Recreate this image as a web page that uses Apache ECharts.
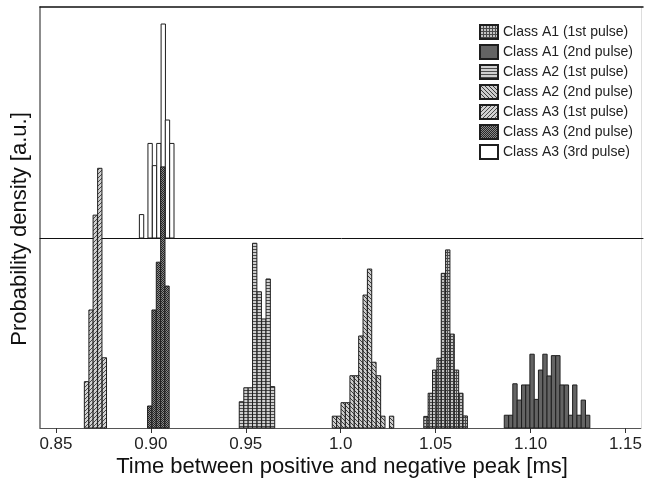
<!DOCTYPE html>
<html>
<head>
<meta charset="utf-8">
<script src="https://cdn.jsdelivr.net/npm/echarts@6/dist/echarts.min.js"></script>
<style>
  html, body { margin: 0; padding: 0; background: #fff; }
  #chart { width: 645px; height: 485px; }
</style>
</head>
<body>
<div id="chart"></div>
<script>
// Histogram of the time between the positive and negative peak, per class and pulse.
const BIN_WIDTH = 0.00228; // ms

const xTickValues = [0.85, 0.90, 0.95, 1.00, 1.05, 1.10, 1.15];
const xTickLabels = ['0.85', '0.90', '0.95', '1.0', '1.05', '1.10', '1.15'];

const seriesNames = [
  'Class A1 (1st pulse)', 'Class A1 (2nd pulse)',
  'Class A2 (1st pulse)', 'Class A2 (2nd pulse)',
  'Class A3 (1st pulse)', 'Class A3 (2nd pulse)', 'Class A3 (3rd pulse)'
];

// bin centres [ms] and probability density [a.u.]
const a1p1Centers = [1.0449, 1.0472, 1.0495, 1.0518, 1.0541, 1.0564, 1.0587, 1.0610, 1.0633, 1.0656];
const a1p1Density = [0.49, 1.47, 2.45, 2.95, 6.54, 7.53, 3.97, 2.45, 1.47, 0.51];

const a1p2Centers = [1.0873, 1.0896, 1.0918, 1.0941, 1.0964, 1.0986, 1.1008, 1.1031, 1.1053, 1.1076,
                     1.1098, 1.1121, 1.1144, 1.1166, 1.1189, 1.1211, 1.1233, 1.1256, 1.1278, 1.1301];
const a1p2Density = [0.54, 0.54, 1.87, 1.18, 1.82, 1.82, 3.12, 1.21, 2.45, 3.12,
                     2.20, 3.06, 3.06, 1.82, 1.82, 0.54, 1.82, 0.54, 1.18, 0.54];

const a2p1Centers = [0.9477, 0.9501, 0.9524, 0.9547, 0.9571, 0.9595, 0.9618, 0.9641];
const a2p1Density = [1.11, 1.70, 1.70, 7.81, 5.76, 4.61, 6.30, 1.75];

const a2p2Centers = [0.9967, 0.9990, 1.0013, 1.0036, 1.0060, 1.0083, 1.0106, 1.0129, 1.0152, 1.0175,
                     1.0199, 1.0222, 1.0268];
const a2p2Density = [0.50, 0.50, 1.07, 1.07, 2.21, 2.21, 3.89, 5.62, 6.72, 2.78, 2.21, 0.50, 0.50];

const a3p1Centers = [0.8661, 0.8685, 0.8707, 0.8731, 0.8755];
const a3p1Density = [1.96, 4.99, 9.00, 10.98, 2.97];

const a3p2Centers = [0.8994, 0.9017, 0.9040, 0.9063, 0.9085];
const a3p2Density = [0.93, 4.99, 7.01, 11.04, 6.00];

// third pulse is drawn in the upper panel, on its own baseline
const a3p3Centers = [0.8949, 0.8994, 0.9017, 0.9040, 0.9063, 0.9085, 0.9108];
const a3p3Density = [0.99, 4.00, 3.06, 4.00, 9.05, 4.99, 4.00];

const X_MIN = 0.8416, X_MAX = 1.1581;
const Y_MAX_LOWER = 17.8;
const Y_MAX_UPPER = 9.77;

// small tiled fill patterns for the bars
function tile(w, h, bg, draw) {
  const c = document.createElement('canvas');
  c.width = w; c.height = h;
  const g = c.getContext('2d');
  g.fillStyle = bg; g.fillRect(0, 0, w, h);
  draw(g);
  return { image: c, repeat: 'repeat' };
}
const patterns = {
  grid: tile(3, 3, '#c4c4c4', g => { g.fillStyle = '#4a4a4a'; g.fillRect(0, 0, 3, 1); g.fillRect(0, 0, 1, 3); }),
  solid: '#646464',
  hlines: tile(2, 3, '#cfcfcf', g => { g.fillStyle = '#4c4c4c'; g.fillRect(0, 0, 2, 1); }),
  back: tile(4, 4, '#cdcdcd', g => { g.fillStyle = '#3c3c3c'; for (let i = 0; i < 4; i++) g.fillRect(i, i, 1, 1); }),
  fwd: tile(4, 4, '#d2d2d2', g => { g.fillStyle = '#484848'; for (let i = 0; i < 4; i++) g.fillRect(3 - i, i, 1, 1); }),
  dots: tile(2, 2, '#8a8a8a', g => { g.fillStyle = '#262626'; g.fillRect(0, 0, 1, 1); g.fillRect(1, 1, 1, 1); }),
  white: '#ffffff'
};

function pairs(xs, ys) { return xs.map((x, i) => [x, ys[i]]); }

function histSeries(name, xs, ys, fill, gridIdx, z) {
  return {
    name: name,
    type: 'custom',
    xAxisIndex: gridIdx,
    yAxisIndex: gridIdx,
    z: z,
    itemStyle: { color: fill, borderColor: '#1e1e1e', borderWidth: 1 },
    renderItem: function (params, api) {
      const x = api.value(0), v = api.value(1);
      const pTop = api.coord([x - BIN_WIDTH / 2, v]);
      const pBase = api.coord([x + BIN_WIDTH / 2, 0]);
      return {
        type: 'rect',
        shape: { x: pTop[0], y: pTop[1], width: pBase[0] - pTop[0], height: pBase[1] - pTop[1] },
        style: { fill: fill, stroke: '#1e1e1e', lineWidth: 1 }
      };
    },
    data: pairs(xs, ys)
  };
}

const FONT = 'Liberation Sans, Arial, sans-serif';

const chart = echarts.init(document.getElementById('chart'), null, { renderer: 'canvas' });
chart.setOption({
  animation: false,
  backgroundColor: '#fff',
  grid: [
    { left: 40, right: 2, top: 7, bottom: 57 },
    { left: 40, right: 2, top: 7, height: 231 }
  ],
  xAxis: [
    {
      gridIndex: 0, type: 'value', min: X_MIN, max: X_MAX,
      axisLine: { show: true, lineStyle: { color: '#555', width: 1 } },
      axisTick: { show: true, length: 5, customValues: xTickValues, lineStyle: { color: '#333' } },
      axisLabel: {
        customValues: xTickValues, margin: 8, color: '#222', fontFamily: FONT, fontSize: 17,
        formatter: v => xTickLabels[xTickValues.findIndex(t => Math.abs(t - v) < 1e-6)]
      },
      splitLine: { show: false }
    },
    {
      gridIndex: 1, type: 'value', min: X_MIN, max: X_MAX,
      axisLine: { show: true, lineStyle: { color: '#111', width: 1 } },
      axisTick: { show: false }, axisLabel: { show: false }, splitLine: { show: false }
    },
    {
      gridIndex: 1, type: 'value', position: 'top', min: X_MIN, max: X_MAX,
      axisLine: { show: true, lineStyle: { color: '#111', width: 1.5 } },
      axisTick: { show: false }, axisLabel: { show: false }, splitLine: { show: false }
    }
  ],
  yAxis: [
    {
      gridIndex: 0, type: 'value', min: 0, max: Y_MAX_LOWER,
      axisLine: { show: true, lineStyle: { color: '#666', width: 1.5 } },
      axisTick: { show: false }, axisLabel: { show: false }, splitLine: { show: false }
    },
    {
      gridIndex: 1, type: 'value', min: 0, max: Y_MAX_UPPER,
      axisLine: { show: false }, axisTick: { show: false }, axisLabel: { show: false }, splitLine: { show: false }
    },
    {
      gridIndex: 0, type: 'value', position: 'right', min: 0, max: Y_MAX_LOWER,
      axisLine: { show: true, lineStyle: { color: '#ddd', width: 1 } },
      axisTick: { show: false }, axisLabel: { show: false }, splitLine: { show: false }
    }
  ],
  legend: {
    orient: 'vertical',
    left: 474, top: 19,
    itemWidth: 18, itemHeight: 14, itemGap: 4,
    icon: 'rect',
    textStyle: { color: '#222', fontFamily: FONT, fontSize: 14 },
    data: seriesNames
  },
  graphic: [
    {
      type: 'text', x: 20, y: 229, rotation: Math.PI / 2,
      style: {
        text: 'Probability density [a.u.]', fill: '#111', font: '22px ' + FONT,
        align: 'center', verticalAlign: 'middle'
      }
    },
    {
      type: 'text', x: 342, y: 467,
      style: {
        text: 'Time between positive and negative peak [ms]', fill: '#111', font: '22px ' + FONT,
        align: 'center', verticalAlign: 'middle'
      }
    }
  ],
  series: [
    histSeries(seriesNames[6], a3p3Centers, a3p3Density, patterns.white, 1, 1),
    histSeries(seriesNames[0], a1p1Centers, a1p1Density, patterns.grid, 0, 2),
    histSeries(seriesNames[1], a1p2Centers, a1p2Density, patterns.solid, 0, 2),
    histSeries(seriesNames[2], a2p1Centers, a2p1Density, patterns.hlines, 0, 2),
    histSeries(seriesNames[3], a2p2Centers, a2p2Density, patterns.back, 0, 2),
    histSeries(seriesNames[4], a3p1Centers, a3p1Density, patterns.fwd, 0, 2),
    histSeries(seriesNames[5], a3p2Centers, a3p2Density, patterns.dots, 0, 2)
  ]
});
</script>
</body>
</html>
